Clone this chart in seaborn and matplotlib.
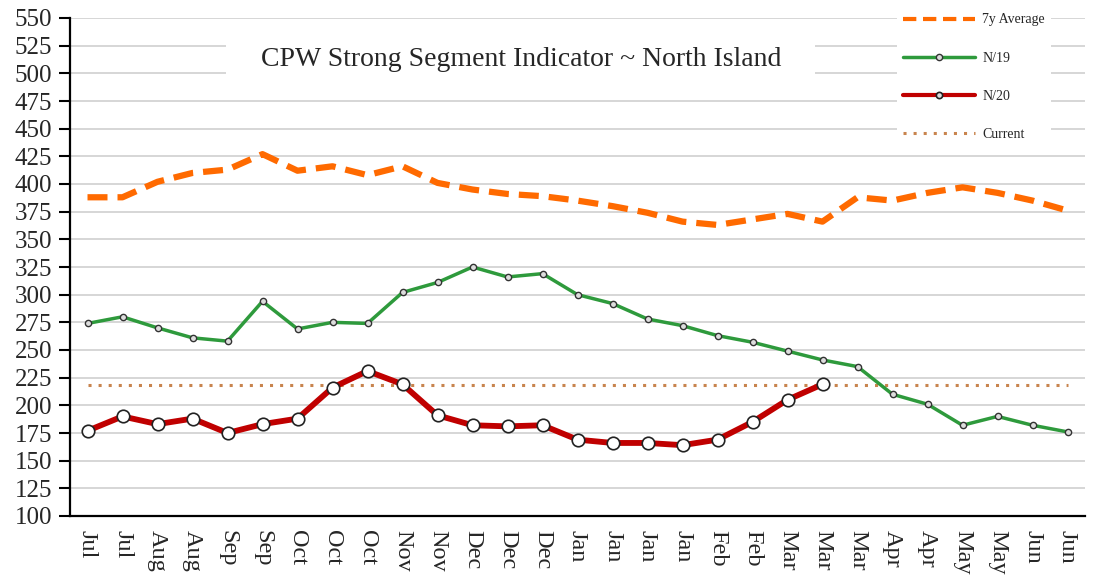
import matplotlib
matplotlib.use("Agg")
import matplotlib.pyplot as plt
import seaborn as sns
import numpy as np
import pandas as pd
from matplotlib.patches import Rectangle

months = ["Jul", "Jul", "Aug", "Aug", "Sep", "Sep", "Oct", "Oct", "Oct", "Nov",
          "Nov", "Dec", "Dec", "Dec", "Jan", "Jan", "Jan", "Jan", "Feb", "Feb",
          "Mar", "Mar", "Mar", "Apr", "Apr", "May", "May", "Jun", "Jun"]

avg_7y = [388, 388, 402, 410, 413, 427, 412, 416, 408, 416,
          401, 395, 391, 389, 385, 380, 374, 366, 363, 368,
          373, 366, 388, 385, 392, 397, 392, 385, 376]

n19 = [274, 280, 270, 261, 258, 294, 269, 275, 274, 302,
       311, 325, 316, 319, 300, 292, 278, 272, 263, 257,
       249, 241, 235, 210, 201, 182, 190, 182, 176]

n20 = [177, 190, 183, 188, 175, 183, 188, 216, 231, 219,
       191, 182, 181, 182, 169, 166, 166, 164, 169, 185,
       205, 219]

current = 218

LabelFont = "Liberation Serif"

sns.set_style("white")
plt.rcParams["font.family"] = [LabelFont, "DejaVu Serif"]

f, ax = plt.subplots(figsize=(10.93, 5.80), dpi=100)
f.subplots_adjust(left=70/1093, right=1085/1093, top=1-18/580, bottom=1-516/580)

idx = np.arange(len(months))
df19 = pd.DataFrame({"x": idx, "y": n19})
df20 = pd.DataFrame({"x": idx[:len(n20)], "y": n20})
dfavg = pd.DataFrame({"x": idx, "y": avg_7y})

sns.lineplot(data=dfavg, x="x", y="y", ax=ax, color="#FF6A00", linewidth=4.5,
             linestyle=(0, (3.2, 1.6)), label="7y Average", zorder=3)
sns.lineplot(data=df19, x="x", y="y", ax=ax, color="#2E9A3C", linewidth=2.5,
             marker="o", markersize=4.5, markerfacecolor="#dddddd",
             markeredgecolor="#333333", markeredgewidth=1.0, label="N/19", zorder=4)
sns.lineplot(data=df20, x="x", y="y", ax=ax, color="#C00000", linewidth=4.2,
             marker="o", markersize=9, markerfacecolor="white",
             markeredgecolor="#222222", markeredgewidth=1.2, label="N/20", zorder=5)
sns.lineplot(x=[idx[0], idx[-1]], y=[current, current], ax=ax, color="#C8844E",
             linewidth=2.2, linestyle=(0, (1.0, 2.3)), label="Current", zorder=3)

ax.set_xlim(-0.5, len(months) - 0.5)
ax.set_ylim(100, 550)
ax.set_yticks(np.arange(100, 551, 25))
ax.set_yticklabels([str(v) for v in range(100, 551, 25)], fontsize=18, fontname=LabelFont)
ax.set_xticks(idx)
ax.set_xticklabels(months, rotation=-90, fontsize=17.5, fontname=LabelFont,
                   ha="center", va="top")
ax.set_xticks(np.arange(-0.5, len(months), 1), minor=True)
ax.tick_params(axis="x", which="major", length=0, pad=10)
ax.tick_params(axis="x", which="minor", length=6, width=1.5, direction="out", color="black")
ax.tick_params(axis="y", length=8, width=1.5, direction="out", color="black", pad=5, left=True)

ax.set_axisbelow(True)
ax.yaxis.grid(True, color="#d0d0d0", linewidth=1.2)
ax.xaxis.grid(False)
for s in ["top", "right"]:
    ax.spines[s].set_visible(False)
for s in ["left", "bottom"]:
    ax.spines[s].set_color("black")
    ax.spines[s].set_linewidth(1.6)
ax.set_xlabel("")
ax.set_ylabel("")

# white box behind the title
ax.add_patch(Rectangle((0.1537, 0.861), 0.580, 0.109, transform=ax.transAxes,
                       facecolor="white", edgecolor="none", zorder=1))
ax.text(0.445, 0.916, "CPW Strong Segment Indicator ~ North Island",
        transform=ax.transAxes, ha="center", va="center", fontsize=20,
        fontname=LabelFont, zorder=2)

leg = ax.legend(loc="upper left", bbox_to_anchor=(890/1093, 1-1/580),
                bbox_transform=f.transFigure, fontsize=10, handlelength=5.2,
                labelspacing=1.8, handletextpad=0.55, borderpad=0.4,
                frameon=True, fancybox=False, framealpha=1)
leg.get_frame().set_facecolor("white")
leg.get_frame().set_edgecolor("none")
leg.set_zorder(6)
for h in leg.legend_handles:
    h.set_markersize(4.5)
    h.set_markerfacecolor("#dddddd")
    h.set_linewidth(min(h.get_linewidth(), 3.0))

plt.savefig("out.png", dpi=100)
